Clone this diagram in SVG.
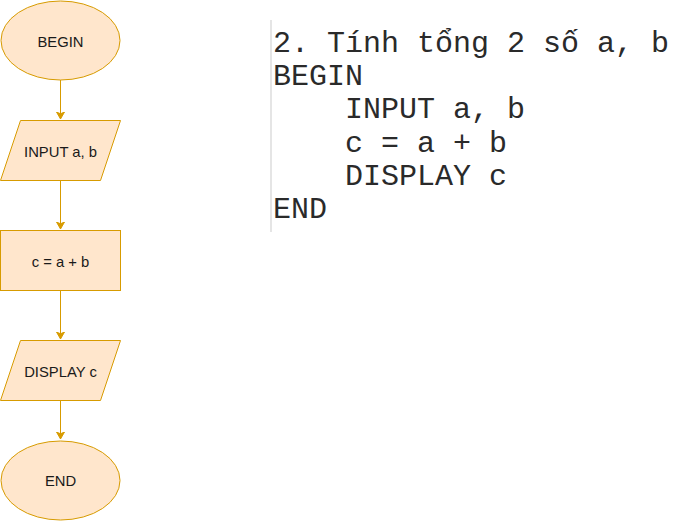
<svg xmlns="http://www.w3.org/2000/svg" width="675" height="521" viewBox="0 0 675 521">
<defs>
<style>
.n{fill:#ffe6cc;stroke:#d79b00;stroke-width:1}
.t{font-family:"Liberation Sans",Arial,sans-serif;font-size:14.8px;fill:#1a1a1a;text-anchor:middle}
.e{stroke:#d79b00;stroke-width:1;fill:none}
.code{font-family:"Liberation Mono","Courier New",monospace;font-size:30px;fill:#2a2a2a;white-space:pre}
</style>
<marker id="ah" markerWidth="10" markerHeight="10" refX="7" refY="4" orient="auto" markerUnits="userSpaceOnUse" viewBox="0 0 10 8">
<path d="M0,0 L7,4 L0,8 L1.8,4 Z" fill="#d79b00" stroke="#d79b00"/>
</marker>
</defs>
<rect width="675" height="521" fill="#ffffff"/>
<g id="connectors">
<path class="e" d="M60.5,80 L60.5,119" marker-end="url(#ah)"/>
<path class="e" d="M60.5,180 L60.5,229" marker-end="url(#ah)"/>
<path class="e" d="M60.5,290 L60.5,339" marker-end="url(#ah)"/>
<path class="e" d="M60.5,400 L60.5,439" marker-end="url(#ah)"/>
</g>
<g id="begin">
<ellipse class="n" cx="60.5" cy="40.5" rx="59.5" ry="39.5"/>
<text class="t" x="60.5" y="46.5">BEGIN</text>
</g>
<g id="input">
<path class="n" d="M20.5,120.5 L120.5,120.5 L100.5,180.5 L0.5,180.5 Z"/>
<text class="t" x="60.5" y="156.5">INPUT a, b</text>
</g>
<g id="process">
<rect class="n" x="0.5" y="230.5" width="120" height="60"/>
<text class="t" x="60.5" y="266.5">c = a + b</text>
</g>
<g id="display">
<path class="n" d="M20.5,340.5 L120.5,340.5 L100.5,400.5 L0.5,400.5 Z"/>
<text class="t" x="60.5" y="376.5">DISPLAY c</text>
</g>
<g id="end">
<ellipse class="n" cx="60.5" cy="480.5" rx="59.5" ry="39.5"/>
<text class="t" x="60.5" y="486">END</text>
</g>
<g id="pseudocode">
<line x1="271" y1="20" x2="271" y2="232" stroke="#dddddd" stroke-width="1.5"/>
<text class="code" x="273" y="52">2. Tính tổng 2 số a, b</text>
<text class="code" x="273" y="85">BEGIN</text>
<text class="code" x="273" y="118">    INPUT a, b</text>
<text class="code" x="273" y="152">    c = a + b</text>
<text class="code" x="273" y="185">    DISPLAY c</text>
<text class="code" x="273" y="218">END</text>
</g>
</svg>
